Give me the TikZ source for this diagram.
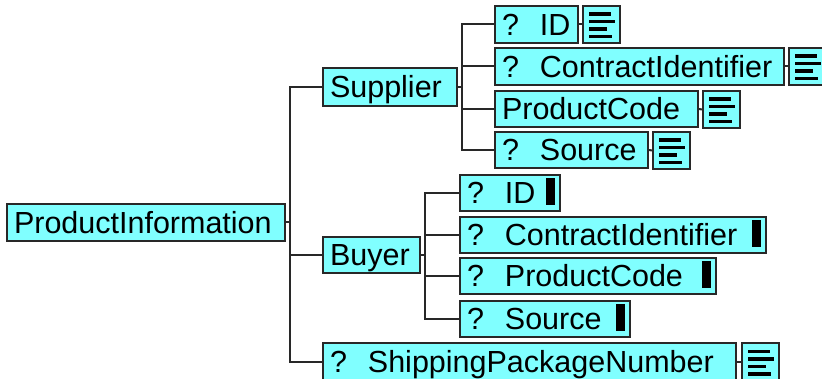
\documentclass[tikz,border=0pt]{standalone}
\usepackage{fontspec}
\setmainfont{Liberation Sans}
\definecolor{boxfill}{RGB}{128,255,255}
\definecolor{edge}{RGB}{40,40,40}
\tikzset{
  box/.style={draw=edge, fill=boxfill, line width=2pt, inner xsep=7pt, inner ysep=0pt,
    outer sep=0pt, text height=21.5pt, text depth=0pt,
    font=\fontsize{30.5}{32}\selectfont},
  icon/.style={draw=edge, fill=boxfill, line width=2pt, outer sep=0pt, inner sep=0pt,
    minimum width=37pt, minimum height=37pt, anchor=north west,
    path picture={
      \foreach \bary/\barl in {6.5/22,14/26,21.5/18,29/23}
        \fill[black] ([shift={(6pt,-\bary pt)}]path picture bounding box.north west)
          rectangle ++(\barl pt,-3.5pt);
    }},
  conn/.style={draw=edge, line width=2pt},
  blk/.style={fill=black}
}
\newcommand\tbox[6]{%
  \pgfmathsetmacro\tbw{#4-14}%
  \node[box, minimum height=#5pt, anchor=north west] (#1) at (#2,#3) {\makebox[\tbw pt][l]{#6}};%
}
\newcommand\qm{?\hspace{21pt}}
\begin{document}
\begin{tikzpicture}[x=1pt,y=-1pt]
\useasboundingbox (0,0) rectangle (822,379);
% root
\tbox{PI}{7}{204}{278}{37}{ProductInformation}
% level 1
\tbox{Sup}{323}{68}{134}{38}{Supplier}
\tbox{Buy}{323}{237}{97}{36}{Buyer}
\tbox{SPN}{323}{343}{413}{37}{\qm ShippingPackageNumber}
% supplier children
\tbox{SID}{495}{6}{83}{37}{\qm ID}
\tbox{SCI}{495}{48}{289}{37}{\qm ContractIdentifier}
\tbox{SPC}{495}{91}{203}{36}{ProductCode}
\tbox{SSrc}{495}{132}{153}{36}{\qm Source}
% buyer children
\tbox{BID}{460}{175}{100}{36}{\qm ID}
\tbox{BCI}{460}{217}{306}{36}{\qm ContractIdentifier}
\tbox{BPC}{460}{258}{256}{36}{\qm ProductCode}
\tbox{BSrc}{460}{301}{170}{36}{\qm Source}
% icons
\node[icon] (SIDi) at (583,6) {};
\node[icon] (SCIi) at (789,48) {};
\node[icon] (SPCi) at (703,91) {};
\node[icon] (SSrci) at (653,132) {};
\node[icon] (SPNi) at (742,343) {};
% black bars in buyer children
\foreach \n in {BID,BCI,BPC,BSrc}
  \fill[blk] ([xshift=-14pt,yshift=14.5pt]\n.east) rectangle ([xshift=-5pt,yshift=-12.5pt]\n.east);
% trunk
\draw[conn] (PI.east) -- ++(5,0) coordinate (tr);
\draw[conn] (Sup.west) -| (tr) |- (SPN.west);
\draw[conn] (Buy.west) -- (Buy.west -| tr);
% supplier branch
\draw[conn] (Sup.east) -- ++(5,0) coordinate (sj);
\draw[conn] (SID.west) -| (sj) |- (SSrc.west);
\draw[conn] (SCI.west) -- (SCI.west -| sj);
\draw[conn] (SPC.west) -- (SPC.west -| sj);
% buyer branch
\draw[conn] (Buy.east) -- ++(5,0) coordinate (bj);
\draw[conn] (BID.west) -| (bj) |- (BSrc.west);
\draw[conn] (BCI.west) -- (BCI.west -| bj);
\draw[conn] (BPC.west) -- (BPC.west -| bj);
% icon stubs
\draw[conn] (SID.east) -- (SIDi.west);
\draw[conn] (SCI.east) -- (SCIi.west);
\draw[conn] (SPC.east) -- (SPCi.west);
\draw[conn] (SSrc.east) -- (SSrci.west);
\draw[conn] (SPN.east) -- (SPNi.west);
\end{tikzpicture}
\end{document}
